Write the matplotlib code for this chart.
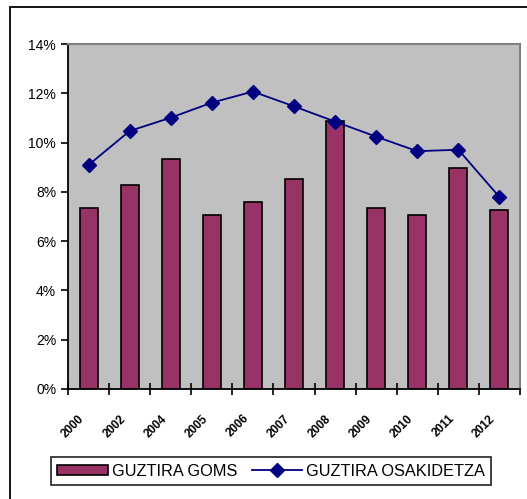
import matplotlib
matplotlib.use('Agg')
import matplotlib.pyplot as plt
from matplotlib.patches import Rectangle
from matplotlib.ticker import FuncFormatter, MultipleLocator

plt.rcParams['font.family'] = ['Liberation Sans', 'DejaVu Sans']

years = ['2000', '2002', '2004', '2005', '2006', '2007', '2008', '2009', '2010', '2011', '2012']
goms = [7.36, 8.27, 9.32, 7.05, 7.58, 8.51, 10.88, 7.36, 7.05, 8.96, 7.28]
osakidetza = [9.09, 10.47, 11.01, 11.62, 12.07, 11.47, 10.85, 10.24, 9.65, 9.71, 7.79]

W, H = 527, 499
fig = plt.figure(figsize=(W / 100, H / 100), dpi=100)

# outer chart frame (runs off the right/bottom edge)
fig.patches.append(Rectangle((10 / W, -0.05), 1.1, 1 - 7 / H + 0.05, transform=fig.transFigure,
                             fill=False, edgecolor='black', linewidth=1.3))

ax = fig.add_axes([68 / W, 1 - 389 / H, (520 - 68) / W, (389 - 44) / H])
ax.set_facecolor('#c0c0c0')

x = list(range(len(years)))
b = ax.bar(x, goms, width=0.44, color='#993366', edgecolor='black', linewidth=1.2)
l, = ax.plot(x, osakidetza, color='#000080', linewidth=1.3, marker='D', markersize=7)

ax.set_xlim(-0.5, len(years) - 0.5)
ax.set_ylim(0, 14)
ax.yaxis.set_major_locator(MultipleLocator(2))
ax.yaxis.set_major_formatter(FuncFormatter(lambda v, p: '{:d}%'.format(int(round(v)))))

# tick marks between categories, labels slanted under each bar
ax.set_xticks([i - 0.5 for i in range(len(years) + 1)], minor=False)
ax.set_xticklabels([])
ax.set_xticks([i - 0.25 for i in x], minor=True)
ax.set_xticklabels(years, minor=True, rotation=45, ha='right', va='top', fontsize=8.5,
                   fontweight='bold', rotation_mode='anchor')
ax.tick_params(axis='x', which='minor', length=0, pad=17)
ax.tick_params(axis='x', which='major', direction='inout', length=8, width=1.2)
ax.tick_params(axis='y', direction='out', length=5, width=1.2, labelsize=10)

for s in ['left', 'bottom']:
    ax.spines[s].set_color('black')
    ax.spines[s].set_linewidth(1.3)
for s in ['top', 'right']:
    ax.spines[s].set_color('#808080')
    ax.spines[s].set_linewidth(1.5)

leg = fig.legend([b, l], ['GUZTIRA GOMS', 'GUZTIRA OSAKIDETZA'], loc='center',
                 bbox_to_anchor=(271 / W, 1 - 471 / H), ncol=2, frameon=True, fancybox=False,
                 edgecolor='black', fontsize=11.8, handlelength=3.1, handleheight=0.6,
                 handletextpad=0.2, columnspacing=0.9, borderpad=0.4, borderaxespad=0)
leg.get_frame().set_linewidth(1.3)

fig.savefig('out.png', dpi=100)
